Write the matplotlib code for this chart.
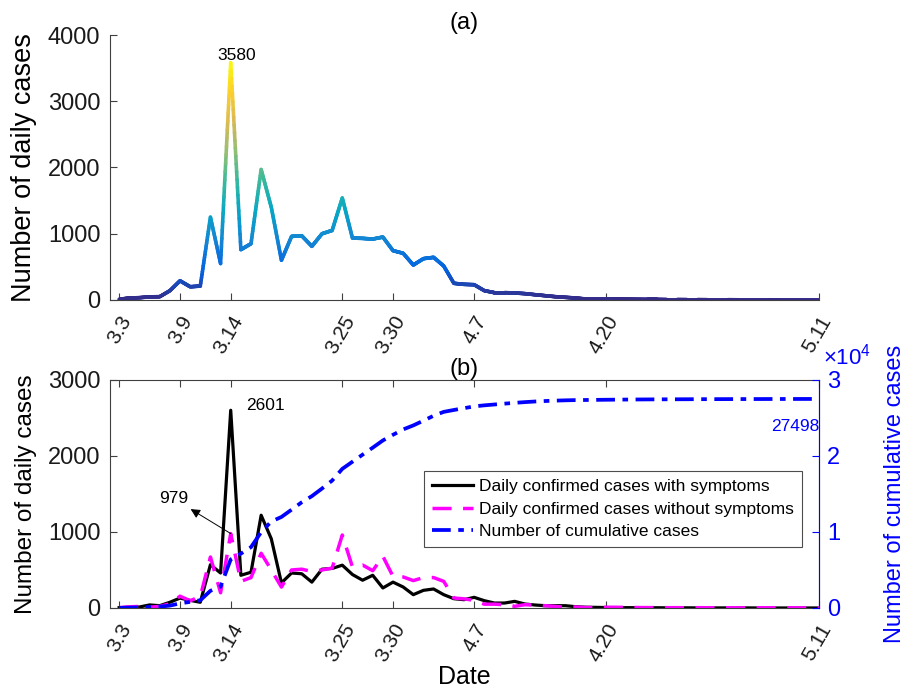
import numpy as np
import matplotlib
matplotlib.use('Agg')
import matplotlib.pyplot as plt
import matplotlib.transforms as mtrans
from matplotlib.collections import LineCollection
from matplotlib.colors import LinearSegmentedColormap, Normalize
from matplotlib.ticker import FuncFormatter

plt.rcParams['font.family'] = ['Liberation Sans', 'DejaVu Sans']
plt.rcParams['mathtext.fontset'] = 'custom'
plt.rcParams['mathtext.rm'] = 'Liberation Sans'

# 3.3 .. 5.11, one value per day
days = np.arange(70)
tick_days = [0, 6, 11, 22, 27, 35, 48, 69]
tick_labels = ['3.3', '3.9', '3.14', '3.25', '3.30', '4.7', '4.20', '5.11']

daily_total = [10, 30, 35, 47, 50, 140, 290, 200, 210,
               1250, 550, 3580, 760, 850, 1970, 1400, 600,
               960, 970, 810, 1000, 1050, 1540, 935, 930, 920, 950, 745,
               705, 528, 624, 644, 513, 252, 236, 231,
               141, 111, 111, 106, 96, 80, 65, 50, 40, 30, 15, 15,
               15, 14, 12, 10, 8, 8, 6, 6, 5, 5, 4, 4, 4, 3, 3, 3, 3, 2, 2, 2, 2, 2]

with_symptoms = [4, 9, 13, 40, 30, 75, 130, 100, 75,
                 570, 460, 2601, 430, 470, 1220, 910, 330,
                 460, 450, 340, 510, 520, 563, 440, 365, 430, 263, 340,
                 276, 175, 232, 250, 175, 122, 109, 140,
                 96, 65, 65, 87, 52, 39, 30, 30, 30, 17, 10, 8,
                 6, 5, 4, 4, 3, 3, 2, 2, 2, 1, 1, 1, 1, 1, 1, 0, 0, 0, 0, 0, 0, 0]

without_symptoms = [5, 15, 20, 10, 20, 55, 155, 95, 150,
                    670, 200, 979, 350, 400, 720, 500, 275,
                    500, 510, 480, 500, 525, 960, 540, 565, 490, 680, 415,
                    408, 360, 400, 400, 350, 131, 120, 100,
                    50, 50, 43, 22, 43, 38, 30, 20, 10, 13, 5, 7,
                    9, 9, 8, 6, 5, 5, 4, 4, 3, 4, 3, 3, 3, 2, 2, 3, 3, 2, 2, 2, 2, 2]

cumulative = np.cumsum(daily_total)

parula = LinearSegmentedColormap.from_list(
    'parula_like', ['#352a87', '#0363e1', '#1485d4', '#06a7c6', '#38b99e',
                    '#92bf73', '#d9ba56', '#fcce2e', '#f9fb0e'])

axis_col = '0.25'
fig = plt.figure(figsize=(9.04, 6.89), dpi=100)
ax1 = fig.add_axes([0.1217, 0.5646, 0.7843, 0.3846])
ax2 = fig.add_axes([0.1217, 0.1176, 0.7843, 0.331])
label_shift = mtrans.ScaledTranslation(3 / 100, -5 / 100, fig.dpi_scale_trans)


def gradient_line(ax, x, y, cmap, norm, lw):
    # split every segment so the colour follows the height like an interpolated surface
    segs, vals = [], []
    for i in range(len(x) - 1):
        t = np.linspace(0, 1, 25)
        xs = x[i] + (x[i + 1] - x[i]) * t
        ys = y[i] + (y[i + 1] - y[i]) * t
        pts = np.column_stack([xs, ys])
        segs.extend(np.stack([pts[:-1], pts[1:]], axis=1))
        vals.extend((ys[:-1] + ys[1:]) / 2)
    lc = LineCollection(segs, cmap=cmap, norm=norm, linewidths=lw, capstyle='round')
    lc.set_array(np.array(vals))
    ax.add_collection(lc)
    return lc


def style_axes(ax):
    ax.set_xlim(-0.9, 69)
    ax.set_xticks(tick_days)
    ax.set_xticklabels(tick_labels, rotation=60, ha='right', va='top',
                       rotation_mode='anchor')
    for lab in ax.get_xticklabels():
        lab.set_transform(lab.get_transform() + label_shift)
    ax.tick_params(direction='in', length=5, width=0.8, color=axis_col,
                   labelsize=17, labelcolor='0.1', pad=7)
    ax.tick_params(axis='x', pad=9, labelsize=15)
    for s in ax.spines.values():
        s.set_color(axis_col)
        s.set_linewidth(0.8)


# (a) total daily cases
y_tot = np.array(daily_total, dtype=float)
gradient_line(ax1, days.astype(float), y_tot, parula,
              Normalize(0, max(daily_total)), 2.6)
style_axes(ax1)
ax1.set_ylim(0, 4000)
ax1.set_yticks([0, 1000, 2000, 3000, 4000])
ax1.spines['top'].set_visible(False)
ax1.spines['right'].set_visible(False)
ax1.set_ylabel('Number of daily cases', fontsize=19.5, labelpad=8)
ax1.set_title('(a)', fontsize=17, pad=4)
pk = int(np.argmax(daily_total))
ax1.annotate(str(daily_total[pk]), xy=(days[pk], daily_total[pk]),
             xytext=(4, 0), textcoords='offset points',
             ha='center', va='bottom', fontsize=12.5)

# (b) with / without symptoms and cumulative
ax2.plot(days, with_symptoms, color='black', lw=2.3,
         label='Daily confirmed cases with symptoms')
ax2.plot(days, without_symptoms, color='#ff00ff', lw=2.5, dashes=(5.5, 3.3),
         label='Daily confirmed cases without symptoms')
style_axes(ax2)
ax2.tick_params(top=True)
ax2.set_ylim(0, 3000)
ax2.set_yticks([0, 1000, 2000, 3000])
ax2.set_ylabel('Number of daily cases', fontsize=17.5, labelpad=8)
ax2.set_xlabel('Date', fontsize=18, labelpad=0)
ax2.set_title('(b)', fontsize=17, pad=2)

pk2 = int(np.argmax(with_symptoms))
ax2.annotate(str(with_symptoms[pk2]), xy=(days[pk2], with_symptoms[pk2]),
             xytext=(11, 9), textcoords='offset points',
             ha='left', va='top', fontsize=12.5)
ax2.annotate(str(without_symptoms[pk2]), xy=(days[pk2], without_symptoms[pk2]),
             xytext=(-41, 25), textcoords='offset points',
             ha='center', va='center', fontsize=12.5,
             arrowprops=dict(arrowstyle='<|-', color='black', lw=0.7,
                             mutation_scale=14, shrinkA=0, shrinkB=0))

axr = ax2.twinx()
axr.plot(days, cumulative, color='#0000ff', lw=2.7, linestyle='-.',
         dashes=(5, 2, 1.5, 2), label='Number of cumulative cases')
axr.set_ylim(0, 30000)
axr.set_yticks([0, 10000, 20000, 30000])
axr.yaxis.set_major_formatter(FuncFormatter(lambda v, p: '%d' % round(v / 1e4)))
axr.tick_params(direction='in', length=5, width=0.8, color='#0000ff',
                labelcolor='#0000ff', labelsize=17, pad=6)
for s in axr.spines.values():
    s.set_visible(False)
axr.spines['right'].set_visible(True)
axr.spines['right'].set_color('#0000ff')
axr.spines['right'].set_linewidth(0.8)
axr.set_ylabel('Number of cumulative cases', fontsize=17, color='#0000ff',
               rotation=90, labelpad=31)
axr.text(1.005, 1.045, r'$\mathregular{\times10^4}$', transform=axr.transAxes,
         ha='left', va='bottom', fontsize=16, color='#0000ff')
axr.annotate(str(cumulative[-1]), xy=(days[-1], cumulative[-1]),
             xytext=(0, -20), textcoords='offset points',
             ha='right', va='center', fontsize=12.5, color='#0000ff')

h1, l1 = ax2.get_legend_handles_labels()
h2, l2 = axr.get_legend_handles_labels()
leg = axr.legend(h1 + h2, l1 + l2, loc='lower right',
                 bbox_to_anchor=(0.976, 0.268), fontsize=12.5, frameon=True,
                 fancybox=False, framealpha=1, edgecolor='0.3',
                 handlelength=2.4, borderpad=0.45, labelspacing=0.42,
                 handletextpad=0.35, borderaxespad=0)
leg.get_frame().set_linewidth(0.8)

fig.savefig('out.png', dpi=100)
